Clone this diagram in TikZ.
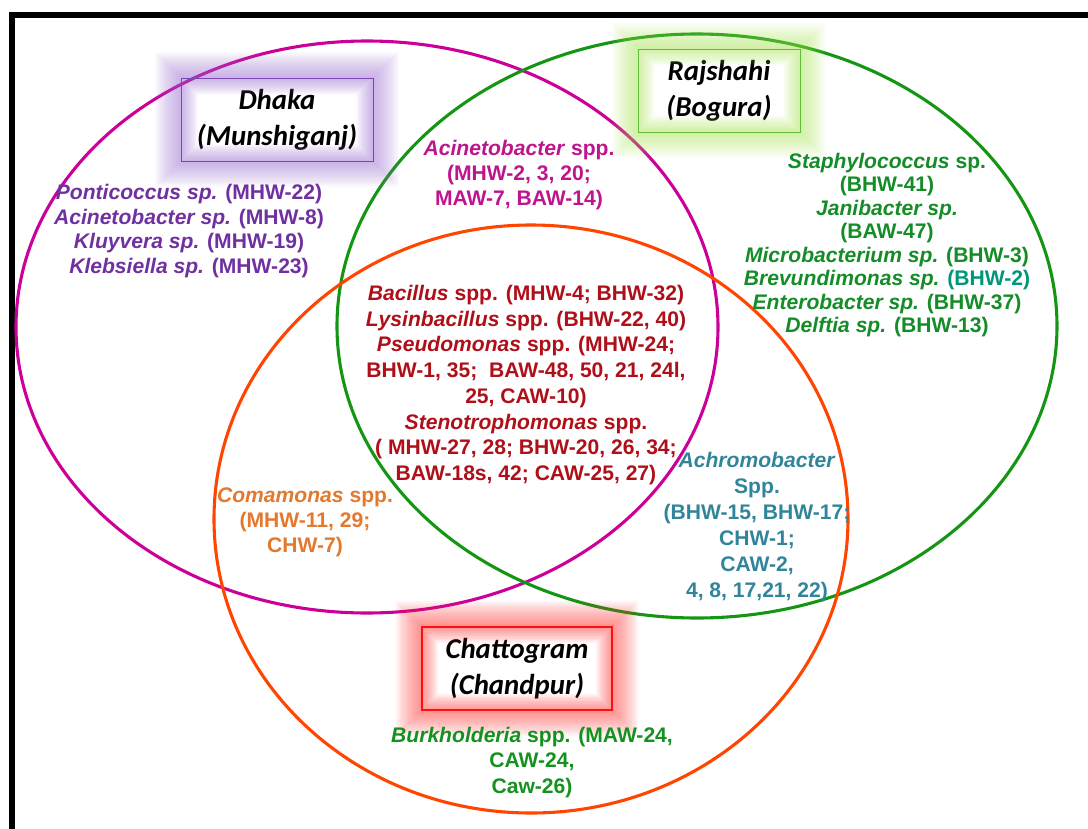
\documentclass[tikz,border=0pt]{standalone}
\usepackage{fontspec}
\setmainfont{Liberation Sans}
\newfontfamily\calibri{Carlito}
\usepackage{xcolor}
\usepackage{tikz}
\usetikzlibrary{positioning}
\definecolor{dhakaline}{RGB}{204,0,153}
\definecolor{rajline}{RGB}{20,150,20}
\definecolor{chatline}{RGB}{255,69,0}
\definecolor{dhakabox}{RGB}{112,48,160}
\definecolor{rajbox}{RGB}{40,160,40}
\definecolor{chatbox}{RGB}{255,0,0}
\definecolor{dhakaglow}{RGB}{150,105,205}
\definecolor{rajglow}{RGB}{165,225,80}
\definecolor{chatglow}{RGB}{255,40,40}
\definecolor{dhakatext}{RGB}{112,48,160}
\definecolor{acinetext}{RGB}{190,20,140}
\definecolor{rajtext}{RGB}{20,140,40}
\definecolor{tealtext}{RGB}{0,150,120}
\definecolor{coretext}{RGB}{175,15,25}
\definecolor{comatext}{RGB}{228,120,45}
\definecolor{achrotext}{RGB}{49,133,155}
\definecolor{burktext}{RGB}{20,145,30}

\begin{document}
\begin{tikzpicture}[x=0.025cm, y=-0.025cm,
    every node/.style={align=center, inner sep=0pt},
    taxa/.style={font=\bfseries\fontsize{15}{#1}\selectfont},
    place/.style={draw, font=\calibri\bfseries\itshape\fontsize{20.5}{25.6}\selectfont, minimum height=2.075cm},
    ring/.style={line width=2.2pt}]
\useasboundingbox (0,0) rectangle (1088,829);
\draw[line width=3.6pt] (12,829) -- (12,15) -- (1088,15);
% the three sites
\draw[ring, dhakaline] (367,327) ellipse [x radius=351, y radius=286];
\draw[ring, rajline] (697,326) ellipse [x radius=360, y radius=292];
\draw[ring, chatline] (531,519) ellipse [x radius=317, y radius=294];
% site labels
\node[place, draw=dhakabox, minimum width=4.8cm] (dhaka) at (277,119.5) {Dhaka\\(Munshiganj)};
\node[place, draw=rajbox, minimum width=4.05cm] (rajshahi) at (719,90.5) {Rajshahi\\(Bogura)};
\node[place, draw=chatbox, line width=1.2pt, minimum width=4.75cm] (chattogram) at (517,668.5) {Chattogram\\(Chandpur)};
\foreach \n/\c in {dhaka/dhakaglow, rajshahi/rajglow, chattogram/chatglow}
  \foreach \g in {1,...,12}
    \fill[\c, opacity=0.055, even odd rule]
      ([xshift=-\g*1.5pt, yshift=-\g*1.5pt]\n.south west) rectangle ([xshift=\g*1.5pt, yshift=\g*1.5pt]\n.north east)
      ([xshift=\g*1pt, yshift=\g*1pt]\n.south west) rectangle ([xshift=-\g*1pt, yshift=-\g*1pt]\n.north east);
% isolates
\node[taxa=17.4pt, text=dhakatext] (dhakaonly) at (189,231) {\textit{Ponticoccus sp.} (MHW-22)\\ \textit{Acinetobacter sp.} (MHW-8)\\ \textit{Kluyvera sp.} (MHW-19)\\ \textit{Klebsiella sp.} (MHW-23)};
\node[taxa=17.8pt, text=acinetext] (dhakaraj) at (519,175) {\textit{Acinetobacter} spp.\\ (MHW-2, 3, 20;\\ MAW-7, BAW-14)};
\node[taxa=16.7pt, text=rajtext] (rajonly) at (887,245) {\textit{Staphylococcus} sp.\\ (BHW-41)\\ \textit{Janibacter sp.}\\ (BAW-47)\\ \textit{Microbacterium sp.} (BHW-3)\\ \textit{Brevundimonas sp.} \textcolor{tealtext}{(BHW-2)}\\ \textit{Enterobacter sp.} (BHW-37)\\ \textit{Delftia sp.} (BHW-13)};
\node[taxa=18.3pt, text=coretext] (allthree) at (526,385) {\textit{Bacillus} spp. (MHW-4; BHW-32)\\ \textit{Lysinbacillus} spp. (BHW-22, 40)\\ \textit{Pseudomonas} spp. (MHW-24;\\ BHW-1, 35;\ \ BAW-48, 50, 21, 24l,\\ 25, CAW-10)\\ \textit{Stenotrophomonas} spp.\\ ( MHW-27, 28; BHW-20, 26, 34;\\ BAW-18s, 42; CAW-25, 27)};
\node[taxa=17.8pt, text=comatext] (dhakachat) at (305,522) {\textit{Comamonas} spp.\\ (MHW-11, 29;\\ CHW-7)};
\node[taxa=18.5pt, text=achrotext] (rajchat) at (757,527) {\textit{Achromobacter}\\ Spp.\\ (BHW-15, BHW-17;\\ CHW-1;\\ CAW-2,\\ 4, 8, 17,21, 22)};
\node[taxa=18.1pt, text=burktext] (chatonly) at (532,762.5) {\textit{Burkholderia} spp. (MAW-24,\\ CAW-24,\\ Caw-26)};
\end{tikzpicture}
\end{document}
